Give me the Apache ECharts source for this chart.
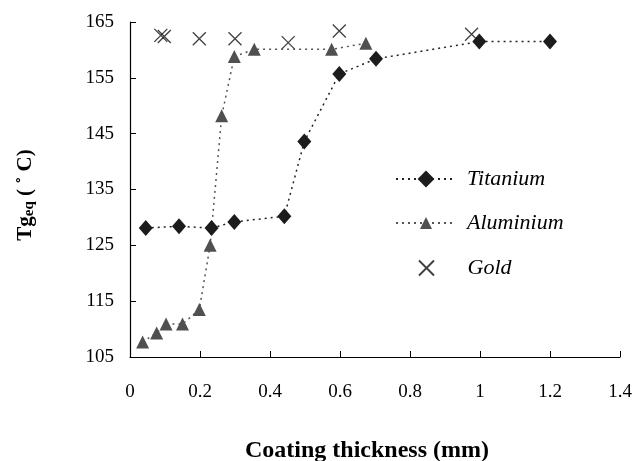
<!DOCTYPE html>
<html><head><meta charset="utf-8">
<script src="https://cdn.jsdelivr.net/npm/echarts@6/dist/echarts.min.js"></script>
<style>html,body{margin:0;padding:0;background:#fff}#c{width:634px;height:461px}</style>
</head><body><div id="c"></div>
<script>
const titaniumX = [0.045, 0.14, 0.233, 0.298, 0.441, 0.498, 0.598, 0.703, 0.998, 1.2];
const titaniumY = [128.1, 128.4, 128.1, 129.2, 130.2, 143.6, 155.7, 158.4, 161.5, 161.5];
const aluminiumX = [0.036, 0.076, 0.103, 0.15, 0.198, 0.229, 0.262, 0.298, 0.355, 0.576, 0.674];
const aluminiumY = [107.7, 109.3, 110.9, 110.9, 113.5, 125.0, 148.2, 158.8, 160.1, 160.1, 161.2];
const goldX = [0.088, 0.098, 0.198, 0.3, 0.452, 0.598, 0.976];
const goldY = [162.6, 162.4, 162.0, 162.0, 161.3, 163.4, 162.8];
const seriesNames = ['Titanium', 'Aluminium', 'Gold'];
const xTitle = 'Coating thickness (mm)';

const zip = (a, b) => a.map((v, i) => [v, b[i]]);
const font = '"Liberation Serif","Times New Roman",serif';
const cross = 'path://M0,0L10,10M10,0L0,10';

const legendText = {fontFamily: font, fontSize: 22, lineHeight: 22, fontStyle: 'italic', color: '#000', padding: [0, 0, 0, 6]};
const mkLegend = (name, left, top, h) => ({
  orient: 'vertical', left: left, top: top, padding: 0, itemWidth: 60, itemHeight: h,
  textStyle: legendText, data: [name], selectedMode: false
});

const chart = echarts.init(document.getElementById('c'));
chart.setOption({
  animation: false,
  backgroundColor: '#fff',
  grid: {left: 130, right: 14, top: 22, bottom: 104, containLabel: false, outerBoundsMode: 'none'},
  xAxis: {
    type: 'value', min: 0, max: 1.4, interval: 0.2,
    name: xTitle, nameLocation: 'middle', nameGap: 82,
    nameTextStyle: {fontFamily: font, fontSize: 24, fontWeight: 'bold', color: '#000', padding: [0, 16, 0, 0]},
    axisLine: {lineStyle: {color: '#000', width: 1.2}},
    axisTick: {inside: true, length: 6, lineStyle: {color: '#000'}},
    axisLabel: {fontFamily: font, fontSize: 19, color: '#000', margin: 26},
    splitLine: {show: false}
  },
  yAxis: {
    type: 'value', min: 105, max: 165, interval: 10,
    name: '{a|Tg}{b|eq}{a| ( ˚ C)}', nameLocation: 'middle', nameGap: 93, nameRotate: 90,
    nameTextStyle: {padding: [0, 11, 0, 0], rich: {
      a: {fontFamily: font, fontSize: 21, fontWeight: 'bold', color: '#000'},
      b: {fontFamily: font, fontSize: 15, fontWeight: 'bold', color: '#000', verticalAlign: 'bottom', padding: [8, 0, 0, 0]}
    }},
    axisLine: {show: true, lineStyle: {color: '#000', width: 1.2}},
    axisTick: {show: true, inside: true, length: 6, lineStyle: {color: '#000'}},
    axisLabel: {fontFamily: font, fontSize: 19, color: '#000', margin: 16},
    splitLine: {show: false}
  },
  legend: [
    mkLegend(seriesNames[0], 395, 168, 21),
    mkLegend(seriesNames[1], 395, 212, 15),
    mkLegend(seriesNames[2], 418, 257, 15)
  ],
  series: [
    {name: seriesNames[0], type: 'line', data: zip(titaniumX, titaniumY),
     symbol: 'diamond', symbolSize: [14, 16],
     lineStyle: {color: '#222', width: 1.5, type: [2, 4]},
     itemStyle: {color: '#1c1c1c'}},
    {name: seriesNames[1], type: 'line', data: zip(aluminiumX, aluminiumY),
     symbol: 'triangle', symbolSize: [13, 13],
     lineStyle: {color: '#555', width: 1.5, type: [2, 4]},
     itemStyle: {color: '#505050'}},
    {name: seriesNames[2], type: 'scatter', data: zip(goldX, goldY),
     symbol: cross, symbolSize: 13,
     itemStyle: {color: 'transparent', borderColor: '#111', borderWidth: 1.3}}
  ]
});
</script></body></html>
